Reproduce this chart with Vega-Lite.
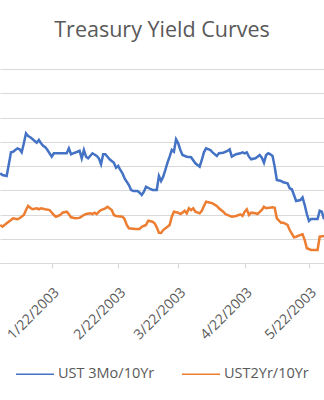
{
  "$schema": "https://vega.github.io/schema/vega-lite/v6.json",
  "width": 324,
  "height": 194,
  "autosize": {"type": "none"},
  "padding": {"left": 0, "right": 0, "top": 69, "bottom": 137},
  "background": "white",
  "title": {"text": "Treasury Yield Curves", "fontSize": 21.5, "font": "Open Sans", "fontWeight": "normal", "color": "#595959", "anchor": "middle", "offset": 28},
  "data": {"values": [
    {"s":"UST 3Mo/10Yr","d":"2002-12-29","v":1.925},
    {"s":"UST 3Mo/10Yr","d":"2002-12-30","v":1.907},
    {"s":"UST 3Mo/10Yr","d":"2003-01-01","v":1.897},
    {"s":"UST 3Mo/10Yr","d":"2003-01-03","v":2.141},
    {"s":"UST 3Mo/10Yr","d":"2003-01-04","v":2.147},
    {"s":"UST 3Mo/10Yr","d":"2003-01-05","v":2.165},
    {"s":"UST 3Mo/10Yr","d":"2003-01-06","v":2.182},
    {"s":"UST 3Mo/10Yr","d":"2003-01-07","v":2.172},
    {"s":"UST 3Mo/10Yr","d":"2003-01-08","v":2.141},
    {"s":"UST 3Mo/10Yr","d":"2003-01-09","v":2.234},
    {"s":"UST 3Mo/10Yr","d":"2003-01-10","v":2.337},
    {"s":"UST 3Mo/10Yr","d":"2003-01-11","v":2.309},
    {"s":"UST 3Mo/10Yr","d":"2003-01-12","v":2.296},
    {"s":"UST 3Mo/10Yr","d":"2003-01-13","v":2.278},
    {"s":"UST 3Mo/10Yr","d":"2003-01-15","v":2.240},
    {"s":"UST 3Mo/10Yr","d":"2003-01-16","v":2.268},
    {"s":"UST 3Mo/10Yr","d":"2003-01-17","v":2.234},
    {"s":"UST 3Mo/10Yr","d":"2003-01-18","v":2.209},
    {"s":"UST 3Mo/10Yr","d":"2003-01-19","v":2.193},
    {"s":"UST 3Mo/10Yr","d":"2003-01-20","v":2.165},
    {"s":"UST 3Mo/10Yr","d":"2003-01-22","v":2.096},
    {"s":"UST 3Mo/10Yr","d":"2003-01-23","v":2.131},
    {"s":"UST 3Mo/10Yr","d":"2003-01-26","v":2.131},
    {"s":"UST 3Mo/10Yr","d":"2003-01-29","v":2.131},
    {"s":"UST 3Mo/10Yr","d":"2003-01-30","v":2.182},
    {"s":"UST 3Mo/10Yr","d":"2003-01-31","v":2.121},
    {"s":"UST 3Mo/10Yr","d":"2003-02-01","v":2.131},
    {"s":"UST 3Mo/10Yr","d":"2003-02-03","v":2.147},
    {"s":"UST 3Mo/10Yr","d":"2003-02-04","v":2.158},
    {"s":"UST 3Mo/10Yr","d":"2003-02-05","v":2.079},
    {"s":"UST 3Mo/10Yr","d":"2003-02-06","v":2.165},
    {"s":"UST 3Mo/10Yr","d":"2003-02-07","v":2.096},
    {"s":"UST 3Mo/10Yr","d":"2003-02-08","v":2.079},
    {"s":"UST 3Mo/10Yr","d":"2003-02-10","v":2.131},
    {"s":"UST 3Mo/10Yr","d":"2003-02-12","v":2.103},
    {"s":"UST 3Mo/10Yr","d":"2003-02-13","v":2.079},
    {"s":"UST 3Mo/10Yr","d":"2003-02-14","v":2.018},
    {"s":"UST 3Mo/10Yr","d":"2003-02-15","v":2.121},
    {"s":"UST 3Mo/10Yr","d":"2003-02-16","v":2.121},
    {"s":"UST 3Mo/10Yr","d":"2003-02-17","v":2.096},
    {"s":"UST 3Mo/10Yr","d":"2003-02-18","v":2.069},
    {"s":"UST 3Mo/10Yr","d":"2003-02-20","v":2.034},
    {"s":"UST 3Mo/10Yr","d":"2003-02-21","v":1.982},
    {"s":"UST 3Mo/10Yr","d":"2003-02-22","v":2.000},
    {"s":"UST 3Mo/10Yr","d":"2003-02-23","v":1.959},
    {"s":"UST 3Mo/10Yr","d":"2003-02-24","v":1.925},
    {"s":"UST 3Mo/10Yr","d":"2003-02-25","v":1.873},
    {"s":"UST 3Mo/10Yr","d":"2003-02-27","v":1.804},
    {"s":"UST 3Mo/10Yr","d":"2003-02-28","v":1.753},
    {"s":"UST 3Mo/10Yr","d":"2003-03-01","v":1.742},
    {"s":"UST 3Mo/10Yr","d":"2003-03-03","v":1.742},
    {"s":"UST 3Mo/10Yr","d":"2003-03-04","v":1.725},
    {"s":"UST 3Mo/10Yr","d":"2003-03-05","v":1.701},
    {"s":"UST 3Mo/10Yr","d":"2003-03-06","v":1.735},
    {"s":"UST 3Mo/10Yr","d":"2003-03-07","v":1.787},
    {"s":"UST 3Mo/10Yr","d":"2003-03-09","v":1.763},
    {"s":"UST 3Mo/10Yr","d":"2003-03-10","v":1.753},
    {"s":"UST 3Mo/10Yr","d":"2003-03-12","v":1.753},
    {"s":"UST 3Mo/10Yr","d":"2003-03-13","v":1.897},
    {"s":"UST 3Mo/10Yr","d":"2003-03-14","v":1.845},
    {"s":"UST 3Mo/10Yr","d":"2003-03-15","v":1.890},
    {"s":"UST 3Mo/10Yr","d":"2003-03-16","v":1.959},
    {"s":"UST 3Mo/10Yr","d":"2003-03-17","v":2.034},
    {"s":"UST 3Mo/10Yr","d":"2003-03-18","v":2.096},
    {"s":"UST 3Mo/10Yr","d":"2003-03-19","v":2.165},
    {"s":"UST 3Mo/10Yr","d":"2003-03-20","v":2.147},
    {"s":"UST 3Mo/10Yr","d":"2003-03-21","v":2.275},
    {"s":"UST 3Mo/10Yr","d":"2003-03-22","v":2.234},
    {"s":"UST 3Mo/10Yr","d":"2003-03-23","v":2.165},
    {"s":"UST 3Mo/10Yr","d":"2003-03-24","v":2.113},
    {"s":"UST 3Mo/10Yr","d":"2003-03-26","v":2.096},
    {"s":"UST 3Mo/10Yr","d":"2003-03-28","v":2.090},
    {"s":"UST 3Mo/10Yr","d":"2003-03-30","v":2.028},
    {"s":"UST 3Mo/10Yr","d":"2003-04-01","v":1.993},
    {"s":"UST 3Mo/10Yr","d":"2003-04-02","v":2.062},
    {"s":"UST 3Mo/10Yr","d":"2003-04-03","v":2.141},
    {"s":"UST 3Mo/10Yr","d":"2003-04-04","v":2.182},
    {"s":"UST 3Mo/10Yr","d":"2003-04-06","v":2.165},
    {"s":"UST 3Mo/10Yr","d":"2003-04-07","v":2.141},
    {"s":"UST 3Mo/10Yr","d":"2003-04-09","v":2.103},
    {"s":"UST 3Mo/10Yr","d":"2003-04-10","v":2.131},
    {"s":"UST 3Mo/10Yr","d":"2003-04-12","v":2.137},
    {"s":"UST 3Mo/10Yr","d":"2003-04-14","v":2.155},
    {"s":"UST 3Mo/10Yr","d":"2003-04-15","v":2.172},
    {"s":"UST 3Mo/10Yr","d":"2003-04-16","v":2.096},
    {"s":"UST 3Mo/10Yr","d":"2003-04-18","v":2.121},
    {"s":"UST 3Mo/10Yr","d":"2003-04-20","v":2.131},
    {"s":"UST 3Mo/10Yr","d":"2003-04-21","v":2.141},
    {"s":"UST 3Mo/10Yr","d":"2003-04-22","v":2.131},
    {"s":"UST 3Mo/10Yr","d":"2003-04-23","v":2.141},
    {"s":"UST 3Mo/10Yr","d":"2003-04-24","v":2.096},
    {"s":"UST 3Mo/10Yr","d":"2003-04-25","v":2.069},
    {"s":"UST 3Mo/10Yr","d":"2003-04-27","v":2.079},
    {"s":"UST 3Mo/10Yr","d":"2003-04-28","v":2.096},
    {"s":"UST 3Mo/10Yr","d":"2003-04-29","v":2.113},
    {"s":"UST 3Mo/10Yr","d":"2003-04-30","v":2.086},
    {"s":"UST 3Mo/10Yr","d":"2003-05-01","v":2.034},
    {"s":"UST 3Mo/10Yr","d":"2003-05-02","v":2.113},
    {"s":"UST 3Mo/10Yr","d":"2003-05-03","v":2.131},
    {"s":"UST 3Mo/10Yr","d":"2003-05-04","v":2.121},
    {"s":"UST 3Mo/10Yr","d":"2003-05-05","v":2.103},
    {"s":"UST 3Mo/10Yr","d":"2003-05-06","v":1.993},
    {"s":"UST 3Mo/10Yr","d":"2003-05-07","v":1.856},
    {"s":"UST 3Mo/10Yr","d":"2003-05-09","v":1.845},
    {"s":"UST 3Mo/10Yr","d":"2003-05-10","v":1.832},
    {"s":"UST 3Mo/10Yr","d":"2003-05-12","v":1.822},
    {"s":"UST 3Mo/10Yr","d":"2003-05-13","v":1.770},
    {"s":"UST 3Mo/10Yr","d":"2003-05-14","v":1.760},
    {"s":"UST 3Mo/10Yr","d":"2003-05-15","v":1.701},
    {"s":"UST 3Mo/10Yr","d":"2003-05-16","v":1.639},
    {"s":"UST 3Mo/10Yr","d":"2003-05-18","v":1.649},
    {"s":"UST 3Mo/10Yr","d":"2003-05-19","v":1.677},
    {"s":"UST 3Mo/10Yr","d":"2003-05-20","v":1.598},
    {"s":"UST 3Mo/10Yr","d":"2003-05-21","v":1.505},
    {"s":"UST 3Mo/10Yr","d":"2003-05-22","v":1.433},
    {"s":"UST 3Mo/10Yr","d":"2003-05-23","v":1.454},
    {"s":"UST 3Mo/10Yr","d":"2003-05-26","v":1.454},
    {"s":"UST 3Mo/10Yr","d":"2003-05-27","v":1.539},
    {"s":"UST 3Mo/10Yr","d":"2003-05-28","v":1.529},
    {"s":"UST 3Mo/10Yr","d":"2003-05-29","v":1.451},
    {"s":"UST2Yr/10Yr","d":"2002-12-29","v":1.392},
    {"s":"UST2Yr/10Yr","d":"2002-12-30","v":1.374},
    {"s":"UST2Yr/10Yr","d":"2003-01-01","v":1.409},
    {"s":"UST2Yr/10Yr","d":"2003-01-03","v":1.443},
    {"s":"UST2Yr/10Yr","d":"2003-01-04","v":1.461},
    {"s":"UST2Yr/10Yr","d":"2003-01-06","v":1.451},
    {"s":"UST2Yr/10Yr","d":"2003-01-07","v":1.461},
    {"s":"UST2Yr/10Yr","d":"2003-01-09","v":1.495},
    {"s":"UST2Yr/10Yr","d":"2003-01-10","v":1.546},
    {"s":"UST2Yr/10Yr","d":"2003-01-11","v":1.588},
    {"s":"UST2Yr/10Yr","d":"2003-01-12","v":1.570},
    {"s":"UST2Yr/10Yr","d":"2003-01-13","v":1.554},
    {"s":"UST2Yr/10Yr","d":"2003-01-15","v":1.564},
    {"s":"UST2Yr/10Yr","d":"2003-01-16","v":1.554},
    {"s":"UST2Yr/10Yr","d":"2003-01-17","v":1.564},
    {"s":"UST2Yr/10Yr","d":"2003-01-19","v":1.554},
    {"s":"UST2Yr/10Yr","d":"2003-01-21","v":1.546},
    {"s":"UST2Yr/10Yr","d":"2003-01-23","v":1.495},
    {"s":"UST2Yr/10Yr","d":"2003-01-24","v":1.477},
    {"s":"UST2Yr/10Yr","d":"2003-01-26","v":1.495},
    {"s":"UST2Yr/10Yr","d":"2003-01-27","v":1.519},
    {"s":"UST2Yr/10Yr","d":"2003-01-29","v":1.529},
    {"s":"UST2Yr/10Yr","d":"2003-01-30","v":1.502},
    {"s":"UST2Yr/10Yr","d":"2003-01-31","v":1.471},
    {"s":"UST2Yr/10Yr","d":"2003-02-02","v":1.461},
    {"s":"UST2Yr/10Yr","d":"2003-02-04","v":1.465},
    {"s":"UST2Yr/10Yr","d":"2003-02-06","v":1.495},
    {"s":"UST2Yr/10Yr","d":"2003-02-07","v":1.505},
    {"s":"UST2Yr/10Yr","d":"2003-02-09","v":1.512},
    {"s":"UST2Yr/10Yr","d":"2003-02-10","v":1.505},
    {"s":"UST2Yr/10Yr","d":"2003-02-11","v":1.519},
    {"s":"UST2Yr/10Yr","d":"2003-02-12","v":1.505},
    {"s":"UST2Yr/10Yr","d":"2003-02-13","v":1.529},
    {"s":"UST2Yr/10Yr","d":"2003-02-14","v":1.546},
    {"s":"UST2Yr/10Yr","d":"2003-02-16","v":1.564},
    {"s":"UST2Yr/10Yr","d":"2003-02-17","v":1.580},
    {"s":"UST2Yr/10Yr","d":"2003-02-19","v":1.546},
    {"s":"UST2Yr/10Yr","d":"2003-02-20","v":1.495},
    {"s":"UST2Yr/10Yr","d":"2003-02-21","v":1.485},
    {"s":"UST2Yr/10Yr","d":"2003-02-24","v":1.477},
    {"s":"UST2Yr/10Yr","d":"2003-02-25","v":1.451},
    {"s":"UST2Yr/10Yr","d":"2003-02-26","v":1.392},
    {"s":"UST2Yr/10Yr","d":"2003-02-27","v":1.358},
    {"s":"UST2Yr/10Yr","d":"2003-03-02","v":1.351},
    {"s":"UST2Yr/10Yr","d":"2003-03-04","v":1.351},
    {"s":"UST2Yr/10Yr","d":"2003-03-05","v":1.374},
    {"s":"UST2Yr/10Yr","d":"2003-03-07","v":1.392},
    {"s":"UST2Yr/10Yr","d":"2003-03-08","v":1.436},
    {"s":"UST2Yr/10Yr","d":"2003-03-10","v":1.426},
    {"s":"UST2Yr/10Yr","d":"2003-03-11","v":1.409},
    {"s":"UST2Yr/10Yr","d":"2003-03-12","v":1.368},
    {"s":"UST2Yr/10Yr","d":"2003-03-13","v":1.312},
    {"s":"UST2Yr/10Yr","d":"2003-03-14","v":1.309},
    {"s":"UST2Yr/10Yr","d":"2003-03-15","v":1.340},
    {"s":"UST2Yr/10Yr","d":"2003-03-17","v":1.374},
    {"s":"UST2Yr/10Yr","d":"2003-03-18","v":1.392},
    {"s":"UST2Yr/10Yr","d":"2003-03-19","v":1.477},
    {"s":"UST2Yr/10Yr","d":"2003-03-20","v":1.529},
    {"s":"UST2Yr/10Yr","d":"2003-03-22","v":1.519},
    {"s":"UST2Yr/10Yr","d":"2003-03-23","v":1.505},
    {"s":"UST2Yr/10Yr","d":"2003-03-24","v":1.519},
    {"s":"UST2Yr/10Yr","d":"2003-03-25","v":1.539},
    {"s":"UST2Yr/10Yr","d":"2003-03-26","v":1.512},
    {"s":"UST2Yr/10Yr","d":"2003-03-27","v":1.564},
    {"s":"UST2Yr/10Yr","d":"2003-03-28","v":1.546},
    {"s":"UST2Yr/10Yr","d":"2003-03-29","v":1.564},
    {"s":"UST2Yr/10Yr","d":"2003-03-30","v":1.529},
    {"s":"UST2Yr/10Yr","d":"2003-04-01","v":1.512},
    {"s":"UST2Yr/10Yr","d":"2003-04-02","v":1.539},
    {"s":"UST2Yr/10Yr","d":"2003-04-03","v":1.588},
    {"s":"UST2Yr/10Yr","d":"2003-04-04","v":1.632},
    {"s":"UST2Yr/10Yr","d":"2003-04-06","v":1.622},
    {"s":"UST2Yr/10Yr","d":"2003-04-07","v":1.615},
    {"s":"UST2Yr/10Yr","d":"2003-04-09","v":1.588},
    {"s":"UST2Yr/10Yr","d":"2003-04-10","v":1.564},
    {"s":"UST2Yr/10Yr","d":"2003-04-12","v":1.529},
    {"s":"UST2Yr/10Yr","d":"2003-04-13","v":1.505},
    {"s":"UST2Yr/10Yr","d":"2003-04-15","v":1.485},
    {"s":"UST2Yr/10Yr","d":"2003-04-16","v":1.477},
    {"s":"UST2Yr/10Yr","d":"2003-04-18","v":1.485},
    {"s":"UST2Yr/10Yr","d":"2003-04-20","v":1.502},
    {"s":"UST2Yr/10Yr","d":"2003-04-21","v":1.485},
    {"s":"UST2Yr/10Yr","d":"2003-04-22","v":1.529},
    {"s":"UST2Yr/10Yr","d":"2003-04-23","v":1.554},
    {"s":"UST2Yr/10Yr","d":"2003-04-24","v":1.495},
    {"s":"UST2Yr/10Yr","d":"2003-04-25","v":1.519},
    {"s":"UST2Yr/10Yr","d":"2003-04-27","v":1.512},
    {"s":"UST2Yr/10Yr","d":"2003-04-28","v":1.505},
    {"s":"UST2Yr/10Yr","d":"2003-04-30","v":1.546},
    {"s":"UST2Yr/10Yr","d":"2003-05-01","v":1.580},
    {"s":"UST2Yr/10Yr","d":"2003-05-02","v":1.564},
    {"s":"UST2Yr/10Yr","d":"2003-05-05","v":1.574},
    {"s":"UST2Yr/10Yr","d":"2003-05-06","v":1.570},
    {"s":"UST2Yr/10Yr","d":"2003-05-07","v":1.461},
    {"s":"UST2Yr/10Yr","d":"2003-05-09","v":1.415},
    {"s":"UST2Yr/10Yr","d":"2003-05-10","v":1.415},
    {"s":"UST2Yr/10Yr","d":"2003-05-12","v":1.392},
    {"s":"UST2Yr/10Yr","d":"2003-05-13","v":1.340},
    {"s":"UST2Yr/10Yr","d":"2003-05-15","v":1.265},
    {"s":"UST2Yr/10Yr","d":"2003-05-16","v":1.271},
    {"s":"UST2Yr/10Yr","d":"2003-05-18","v":1.289},
    {"s":"UST2Yr/10Yr","d":"2003-05-19","v":1.296},
    {"s":"UST2Yr/10Yr","d":"2003-05-20","v":1.237},
    {"s":"UST2Yr/10Yr","d":"2003-05-21","v":1.152},
    {"s":"UST2Yr/10Yr","d":"2003-05-23","v":1.134},
    {"s":"UST2Yr/10Yr","d":"2003-05-25","v":1.134},
    {"s":"UST2Yr/10Yr","d":"2003-05-26","v":1.134},
    {"s":"UST2Yr/10Yr","d":"2003-05-27","v":1.271},
    {"s":"UST2Yr/10Yr","d":"2003-05-29","v":1.278}
  ]},
  "mark": {"type": "line", "strokeWidth": 2.5, "clip": true},
  "encoding": {
    "x": {
      "field": "d", "type": "temporal",
      "scale": {"domain": [{"year": 2002, "month": 12, "date": 28, "hours": 21}, {"year": 2003, "month": 5, "date": 29}]},
      "axis": {
        "title": null, "grid": false,
        "values": [{"year": 2003, "month": 1, "date": 22}, {"year": 2003, "month": 2, "date": 22}, {"year": 2003, "month": 3, "date": 22}, {"year": 2003, "month": 4, "date": 22}, {"year": 2003, "month": 5, "date": 22}, {"year": 2003, "month": 6, "date": 22}],
        "format": "%-m/%-d/%Y", "labelAngle": -45, "labelAlign": "right", "labelBaseline": "top",
        "labelFont": "Open Sans", "labelFontSize": 14, "labelColor": "#595959", "labelPadding": 17,
        "domainColor": "#D9D9D9", "domainWidth": 1.2, "tickColor": "#D9D9D9", "tickWidth": 1.2, "tickSize": 5,
        "labelOverlap": false, "labelFlush": false, "labelBound": false
      }
    },
    "y": {
      "field": "v", "type": "quantitative",
      "scale": {"domain": [1, 3], "nice": false, "zero": false},
      "axis": {"title": null, "labels": false, "ticks": false, "domain": false, "values": [1, 1.25, 1.5, 1.75, 2, 2.25, 2.5, 2.75, 3], "gridColor": "#D9D9D9", "gridWidth": 1.2}
    },
    "color": {
      "field": "s", "type": "nominal",
      "scale": {"domain": ["UST 3Mo/10Yr", "UST2Yr/10Yr"], "range": ["#4472C4", "#ED7D31"]},
      "legend": {"title": null, "orient": "bottom", "direction": "horizontal", "symbolType": "stroke", "symbolSize": 1444, "symbolStrokeWidth": 1.5, "labelFont": "Open Sans", "labelFontSize": 14.5, "labelColor": "#595959", "labelOffset": 3, "columnPadding": 24, "offset": 12}
    }
  },
  "config": {"view": {"stroke": null}, "legend": {"layout": {"bottom": {"anchor": "middle"}}}}
}
